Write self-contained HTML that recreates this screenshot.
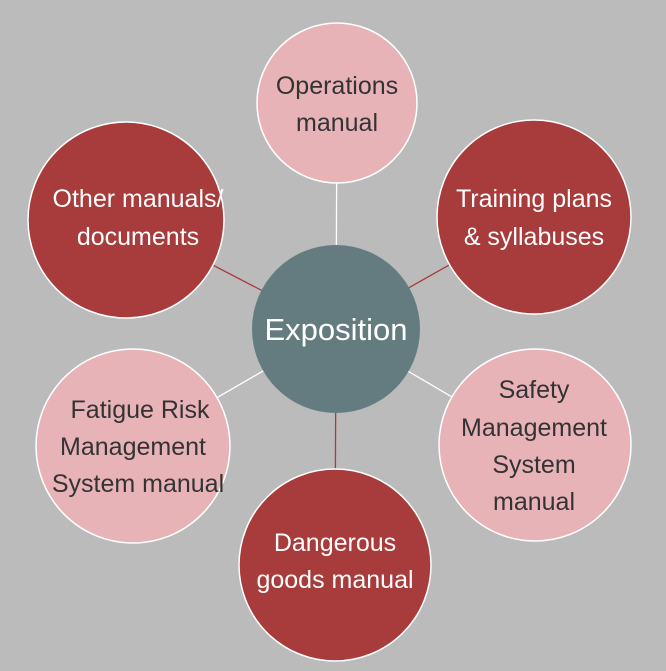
<!DOCTYPE html>
<html><head><style>html,body{margin:0;padding:0;background:#bbbbbb;}</style></head><body>
<svg width="666" height="671" xmlns="http://www.w3.org/2000/svg" style="display:block">
<rect width="666" height="671" fill="#bbbbbb"/>
<g stroke-width="1.3">
<line x1="336" y1="329" x2="337" y2="103" stroke="#ffffff"/>
<line x1="336" y1="329" x2="534" y2="217" stroke="#a83b3b"/>
<line x1="336" y1="329" x2="534" y2="445" stroke="#ffffff"/>
<line x1="336" y1="329" x2="335" y2="565" stroke="#a83b3b"/>
<line x1="336" y1="329" x2="133" y2="446" stroke="#ffffff"/>
<line x1="336" y1="329" x2="126" y2="220" stroke="#a83b3b"/>
</g>
<g stroke="#ffffff" stroke-width="1.5">
<circle cx="337" cy="103" r="80" fill="#e8b3b7"/>
<circle cx="534" cy="217" r="97" fill="#a83b3b"/>
<circle cx="535" cy="445" r="96" fill="#e8b3b7"/>
<circle cx="335" cy="565" r="96" fill="#a83b3b"/>
<circle cx="133" cy="446" r="97" fill="#e8b3b7"/>
<circle cx="126" cy="220" r="98" fill="#a83b3b"/>
</g>
<circle cx="336" cy="329" r="84" fill="#647c80"/>
<g font-family="Liberation Sans, sans-serif" font-size="25" text-anchor="middle" textLength="">
<text x="336" y="340" font-size="31" fill="#fff">Exposition</text>
<text fill="#333"><tspan x="337" y="94">Operations</tspan><tspan x="337" y="131">manual</tspan></text>
<text fill="#fff"><tspan x="534" y="207">Training plans</tspan><tspan x="534" y="245">&amp; syllabuses</tspan></text>
<text fill="#333"><tspan x="534" y="398">Safety</tspan><tspan x="534" y="436">Management</tspan><tspan x="534" y="473">System</tspan><tspan x="534" y="510">manual</tspan></text>
<text fill="#fff"><tspan x="335" y="551">Dangerous</tspan><tspan x="335" y="588">goods manual</tspan></text>
<text fill="#333"><tspan x="140" y="418">Fatigue Risk</tspan><tspan x="133" y="455">Management</tspan><tspan x="138" y="492">System manual</tspan></text>
<text fill="#fff"><tspan x="138" y="207">Other manuals/</tspan><tspan x="138" y="245">documents</tspan></text>
</g>
</svg>
</body></html>
